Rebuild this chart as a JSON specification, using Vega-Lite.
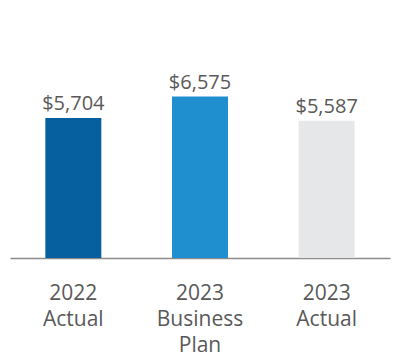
{
  "$schema": "https://vega.github.io/schema/vega-lite/v6.json",
  "autosize": "none",
  "width": 380,
  "height": 248,
  "padding": {"left": 10, "top": 10, "right": 10, "bottom": 102},
  "background": "white",
  "config": {"view": {"stroke": null}, "font": "Open Sans"},
  "data": {"values": [
    {"label": "2022 Actual", "value": 5704, "text": "$5,704", "color": "#06609f"},
    {"label": "2023 Business Plan", "value": 6575, "text": "$6,575", "color": "#1f8fd0"},
    {"label": "2023 Actual", "value": 5587, "text": "$5,587", "color": "#e6e7e9"}
  ]},
  "encoding": {
    "x": {"field": "label", "type": "nominal", "sort": null,
      "scale": {"paddingInner": 0.558, "paddingOuter": 0.279},
      "axis": {"title": null, "ticks": false, "domainColor": "#8c8c8c", "domainWidth": 1.5,
        "labelAngle": 0, "labelFontSize": 21, "labelColor": "#595959", "labelLineHeight": 26,
        "labelPadding": 24, "labelBaseline": "top", "labelExpr": "split(datum.label, ' ')"}},
    "y": {"field": "value", "type": "quantitative", "scale": {"domain": [0, 10100]}, "axis": null}
  },
  "layer": [
    {"mark": {"type": "bar"}, "encoding": {"color": {"field": "color", "type": "nominal", "scale": null}}},
    {"mark": {"type": "text", "baseline": "bottom", "dy": -4, "fontSize": 20, "color": "#595959"},
     "encoding": {"text": {"field": "text"}}}
  ]
}
